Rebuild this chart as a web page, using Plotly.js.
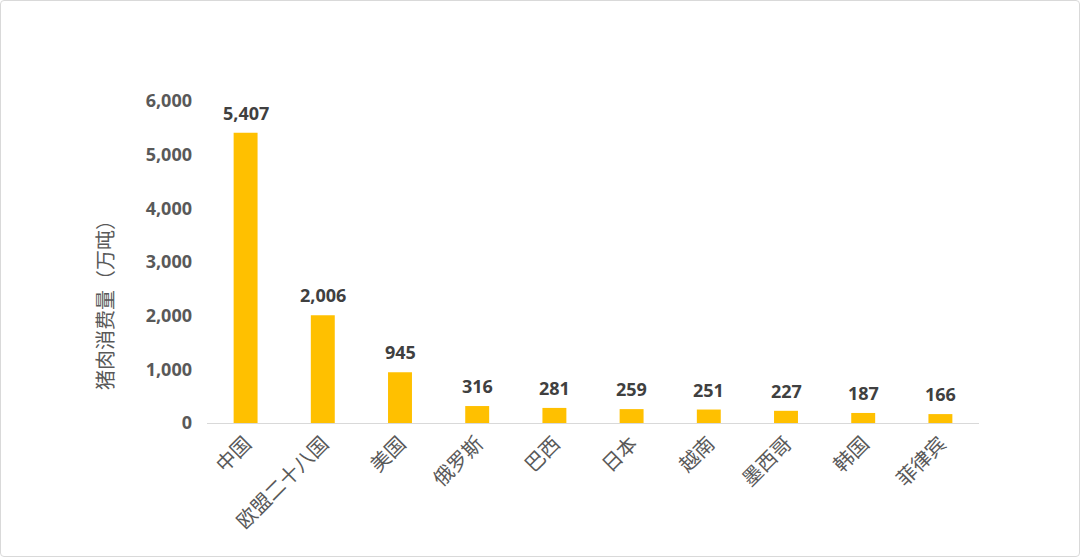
<!DOCTYPE html>
<html><head><meta charset="utf-8">
<script src="https://cdn.plot.ly/plotly-3.0.1.min.js"></script>
<style>
html,body{margin:0;padding:0;background:#fff;}
#wrap{position:relative;width:1080px;height:557px;}
#chart{position:absolute;left:0;top:0;width:1080px;height:557px;}
#frame{position:absolute;left:0;top:0;width:1078px;height:555px;border:1px solid #d9d9d9;border-radius:4px;pointer-events:none;}
</style></head>
<body>
<div id="wrap"><div id="chart"></div><div id="frame"></div></div>
<script>
const countries = ["中国","欧盟二十八国","美国","俄罗斯","巴西","日本","越南","墨西哥","韩国","菲律宾"];
const consumption = [5407, 2006, 945, 316, 281, 259, 251, 227, 187, 166];
const yTickValues = [0, 1000, 2000, 3000, 4000, 5000, 6000];
const yTickLabels = ["0","1,000","2,000","3,000","4,000","5,000","6,000"];
const yTitle = "猪肉消费量（万吨）";

const trace = {
  type: "bar",
  x: countries,
  y: consumption,
  marker: {color: "#FFC000"},
  hoverinfo: "none"
};

const annotations = countries.map((c, i) => ({
  x: c, y: consumption[i], xref: "x", yref: "y",
  text: consumption[i].toLocaleString("en-US"),
  showarrow: false, yanchor: "bottom", yshift: 6,
  font: {family: "Open Sans, sans-serif", size: 18, color: "#404040", weight: 700}
}));

annotations.push({
  xref: "paper", yref: "paper", x: -0.132, y: 0.382,
  xanchor: "center", yanchor: "middle", textangle: -90,
  text: yTitle, showarrow: false,
  font: {family: "Noto Sans CJK SC, sans-serif", size: 20, color: "#595959"}
});

const layout = {
  width: 1080, height: 557,
  margin: {l: 207, r: 101, t: 101, b: 134},
  paper_bgcolor: "#fff", plot_bgcolor: "#fff",
  bargap: 0.69,
  showlegend: false,
  annotations: annotations,
  xaxis: {
    tickangle: -45,
    tickfont: {family: "Noto Sans CJK SC, sans-serif", size: 20, color: "#595959"},
    showline: true, linecolor: "#d9d9d9", linewidth: 1,
    ticks: "", showgrid: false, zeroline: false
  },
  yaxis: {
    range: [0, 6000],
    tickvals: yTickValues, ticktext: yTickLabels,
    tickfont: {family: "Open Sans, sans-serif", size: 18, color: "#595959", weight: 700},
    ticks: "", ticklabelstandoff: 14,
    showgrid: false, zeroline: false, showline: false
  }
};

Plotly.newPlot("chart", [trace], layout, {staticPlot: true, displayModeBar: false});
</script>
</body></html>
